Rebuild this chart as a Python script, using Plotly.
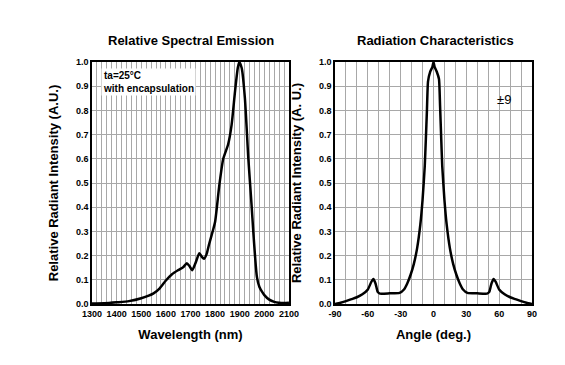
import plotly.graph_objects as go

wavelength_nm = [1300, 1350, 1400, 1450, 1500, 1550, 1575, 1600, 1625, 1650, 1670, 1685, 1695,
                 1707, 1720, 1736, 1746, 1755, 1765, 1775, 1790, 1800, 1817, 1833, 1853, 1867,
                 1881, 1892, 1898, 1908, 1921, 1935, 1948, 1955, 1962, 1970, 1980, 1991, 2000,
                 2020, 2040, 2060, 2080, 2100]
spectral_intensity = [0.002, 0.003, 0.007, 0.012, 0.024, 0.044, 0.065, 0.097, 0.123, 0.14, 0.152,
                      0.168, 0.158, 0.14, 0.168, 0.21, 0.195, 0.187, 0.205, 0.245, 0.30, 0.34,
                      0.49, 0.60, 0.66, 0.74, 0.88, 0.975, 1.0, 0.975, 0.85, 0.60, 0.41, 0.30,
                      0.20, 0.11, 0.07, 0.05, 0.037, 0.018, 0.009, 0.005, 0.004, 0.005]

angle_deg = [-90, -85, -80, -75, -70, -65, -60, -57, -55, -53, -51, -49, -40, -31, -27, -24, -21,
             -18, -15, -12, -10, -8, -7, -6, -5, -3, -1, 0, 1, 3, 5, 6, 7, 8, 10, 12, 15, 18, 21,
             24, 27, 31, 40, 49, 51, 53, 55, 57, 60, 65, 70, 75, 80, 85, 90]
radiant_intensity = [0.0, 0.005, 0.012, 0.02, 0.028, 0.04, 0.06, 0.09, 0.103, 0.085, 0.05, 0.043,
                     0.044, 0.046, 0.06, 0.085, 0.12, 0.165, 0.23, 0.33, 0.43, 0.57, 0.68, 0.8,
                     0.92, 0.96, 0.98, 1.0, 0.98, 0.96, 0.93, 0.82, 0.69, 0.57, 0.43, 0.33, 0.23,
                     0.165, 0.12, 0.085, 0.06, 0.046, 0.044, 0.043, 0.05, 0.085, 0.103, 0.09,
                     0.06, 0.04, 0.028, 0.02, 0.012, 0.005, 0.0]

wl_ticks = [1300, 1400, 1500, 1600, 1700, 1800, 1900, 2000, 2100]
ang_ticks = [-90, -60, -30, 0, 30, 60, 90]
y_ticks = [0.0, 0.1, 0.2, 0.3, 0.4, 0.5, 0.6, 0.7, 0.8, 0.9, 1.0]

FONT = "Liberation Sans, Arial, sans-serif"
GRID = "#a8a8a8"

fig = go.Figure()
fig.add_trace(go.Scatter(x=wavelength_nm, y=spectral_intensity, mode="lines",
                         line=dict(color="black", width=2.5, shape="spline", smoothing=0.6),
                         xaxis="x", yaxis="y", showlegend=False))
fig.add_trace(go.Scatter(x=angle_deg, y=radiant_intensity, mode="lines",
                         line=dict(color="black", width=2.5, shape="spline", smoothing=0.5),
                         xaxis="x2", yaxis="y2", showlegend=False))

tickfont = dict(family=FONT, size=9, color="black", weight="bold")
titlefont = dict(family=FONT, size=13, color="black", weight="bold")

common_y = dict(range=[0, 1.0], tickvals=y_ticks, ticktext=[f"{v:.1f}" for v in y_ticks],
                showgrid=True, gridcolor=GRID, gridwidth=1, showline=True, linecolor="black",
                linewidth=1.5, mirror=True, ticks="", tickfont=tickfont, zeroline=False,
                automargin=False,
                title=dict(text="Relative Radiant Intensity (A.U.)", font=titlefont, standoff=14))

YDOM = [0.189, 0.852]

fig.update_layout(
    width=565, height=365,
    margin=dict(l=0, r=0, t=0, b=0),
    paper_bgcolor="white", plot_bgcolor="white",
    xaxis=dict(domain=[0.1487, 0.4973], range=[1300, 2100], tickvals=wl_ticks,
               showgrid=True, gridcolor=GRID, gridwidth=1,
               minor=dict(dtick=20, tick0=1300, showgrid=True, gridcolor=GRID, gridwidth=1),
               showline=True, linecolor="black", linewidth=1.5, mirror=True, ticks="",
               tickfont=tickfont, zeroline=False, anchor="y", automargin=False,
               title=dict(text="Wavelength (nm)", font=titlefont, standoff=12)),
    yaxis=dict(domain=YDOM, anchor="x", **common_y),
    xaxis2=dict(domain=[0.5788, 0.9274], range=[-90, 90], tickvals=ang_ticks,
                ticktext=[str(v) for v in ang_ticks],
                showgrid=True, gridcolor=GRID, gridwidth=1,
                minor=dict(dtick=10, tick0=-90, showgrid=True, gridcolor=GRID, gridwidth=1),
                showline=True, linecolor="black", linewidth=1.5, mirror=True, ticks="",
                tickfont=tickfont, zeroline=False, anchor="y2", automargin=False,
                title=dict(text="Angle (deg.)", font=titlefont, standoff=12)),
    yaxis2=dict(domain=YDOM, anchor="x2", **common_y),
)
fig.layout.yaxis2.title.text = "Relative Radiant Intensity (A. U.)"

fig.add_annotation(text="<b>Relative Spectral Emission</b>", xref="paper", yref="paper",
                   x=0.324, y=0.9096, showarrow=False, xanchor="center", yanchor="middle",
                   font=dict(family=FONT, size=13, color="black"))
fig.add_annotation(text="<b>Radiation Characteristics</b>", xref="paper", yref="paper",
                   x=0.756, y=0.9096, showarrow=False, xanchor="center", yanchor="middle",
                   font=dict(family=FONT, size=13, color="black"))
fig.add_annotation(text="<b>ta=25°C<br>with encapsulation</b>", xref="x", yref="y",
                   x=1335, y=0.975, showarrow=False, xanchor="left", yanchor="top", align="left",
                   bgcolor="white", borderpad=1,
                   font=dict(family=FONT, size=10, color="black"))
fig.add_annotation(text="±9", xref="x2", yref="y2", x=64, y=0.845, showarrow=False,
                   xanchor="center", yanchor="middle",
                   font=dict(family=FONT, size=13, color="black"))

fig.write_html("out.html")
